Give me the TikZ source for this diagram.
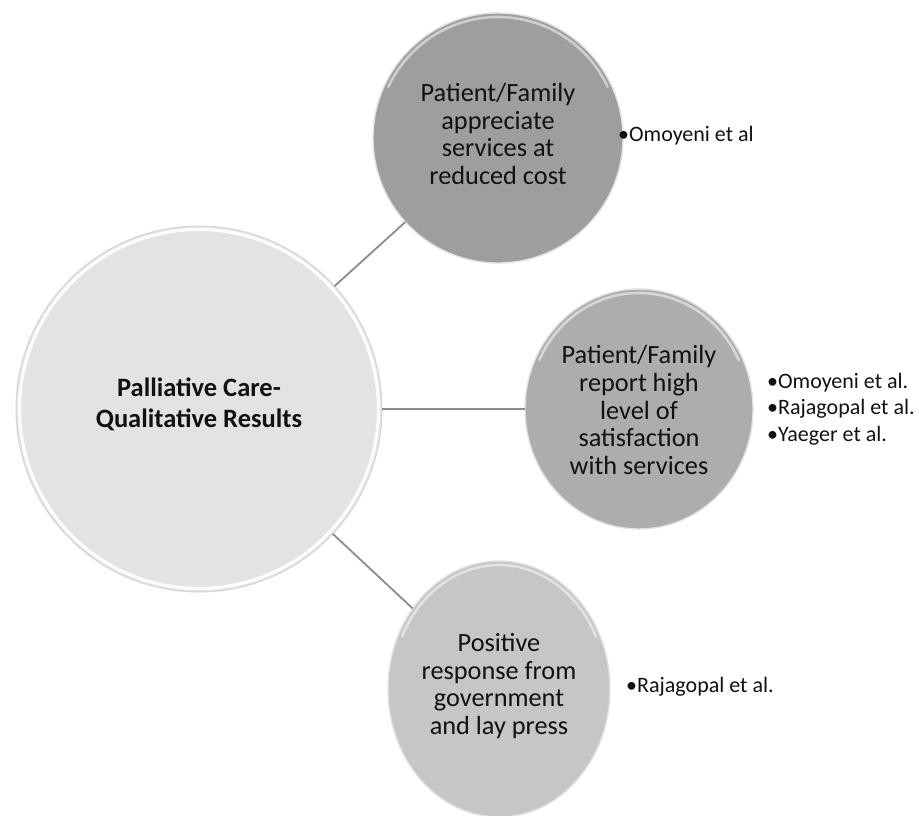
\documentclass[tikz,border=0pt]{standalone}
\usepackage{fontspec}
\setmainfont{Carlito}
\usetikzlibrary{shapes.geometric}

% palette
\definecolor{hubfill}{HTML}{E3E3E3}
\definecolor{hubedge}{HTML}{D6D6D6}
\definecolor{topfill}{HTML}{9E9E9E}
\definecolor{midfill}{HTML}{ADADAD}
\definecolor{botfill}{HTML}{C6C6C6}
\definecolor{rimedge}{HTML}{DDE3E8}
\definecolor{linkgrey}{HTML}{8C8C8C}
\definecolor{ink}{HTML}{111111}

\tikzset{
  bubble/.style={inner sep=0pt, outer sep=0pt},
  link/.style={draw=linkgrey, line width=1.8pt},
  rimline/.style={draw=rimedge, line width=1.4pt},
  glow/.style={draw=white, line width=2.6pt, opacity=0.5, line cap=round},
  hubglow/.style={draw=white, line width=3.2pt, opacity=0.9},
  bubbletext/.style={align=center, text=ink, inner sep=0pt,
    font=\fontsize{26.3}{27.6}\selectfont},
  hubtext/.style={align=center, text=ink, inner sep=0pt,
    font=\fontsize{26.5}{31}\selectfont\bfseries},
  cite/.style={align=left, text=ink, inner sep=0pt, anchor=west,
    font=\fontsize{22}{26.5}\selectfont},
}

\begin{document}
\begin{tikzpicture}[x=1pt, y=-1pt]
  \useasboundingbox (0,0) rectangle (919,816);

  % bubbles
  \node[bubble, circle, minimum size=366pt, fill=hubfill] (hub) at (199,409) {};
  \node[bubble, circle, minimum size=250pt, fill=topfill] (top) at (498,138) {};
  \node[bubble, ellipse, minimum width=228pt, minimum height=240pt, fill=midfill] (mid) at (639,409) {};
  \node[bubble, ellipse, minimum width=222pt, minimum height=256pt, fill=botfill] (bot) at (499,689) {};

  % bevel highlights (y axis points down, so 270 is the top)
  \draw[hubedge, line width=1pt] (hub.center) circle (183);
  \draw[hubglow] (hub.center) circle (179.5);
  \draw[rimline] (top.center) circle (125);
  \draw[glow] ([shift={(205:121)}]top.center) arc[start angle=205, end angle=335, radius=121];
  \draw[rimline] (mid.center) ellipse [x radius=114, y radius=120];
  \draw[glow] ([shift={(205:110 and 116)}]mid.center)
    arc[start angle=205, end angle=335, x radius=110, y radius=116];
  \draw[rimline] (bot.center) ellipse [x radius=111, y radius=128];
  \draw[glow] ([shift={(205:107 and 124)}]bot.center)
    arc[start angle=205, end angle=335, x radius=107, y radius=124];

  % connectors
  \draw[link] (hub) -- (top);
  \draw[link] (hub) -- (mid);
  \draw[link] (hub) -- (bot);

  % bubble labels
  \node[hubtext] (hubLabel) at (199,404) {Palliative Care-\\Qualitative Results};
  \node[bubbletext] (topLabel) at (498,134) {Patient/Family\\appreciate\\services at\\reduced cost};
  \node[bubbletext] (midLabel) at (639,410) {Patient/Family\\report high\\level of\\satisfaction\\with services};
  \node[bubbletext] (botLabel) at (499,686) {Positive\\response from\\government\\and lay press};

  % references
  \node[cite] (topRefs) at (618,136) {•Omoyeni et al};
  \node[cite] (midRefs) at (767,409) {•Omoyeni et al.\\•Rajagopal et al.\\•Yaeger et al.};
  \node[cite] (botRefs) at (626,687) {•Rajagopal et al.};
\end{tikzpicture}
\end{document}
